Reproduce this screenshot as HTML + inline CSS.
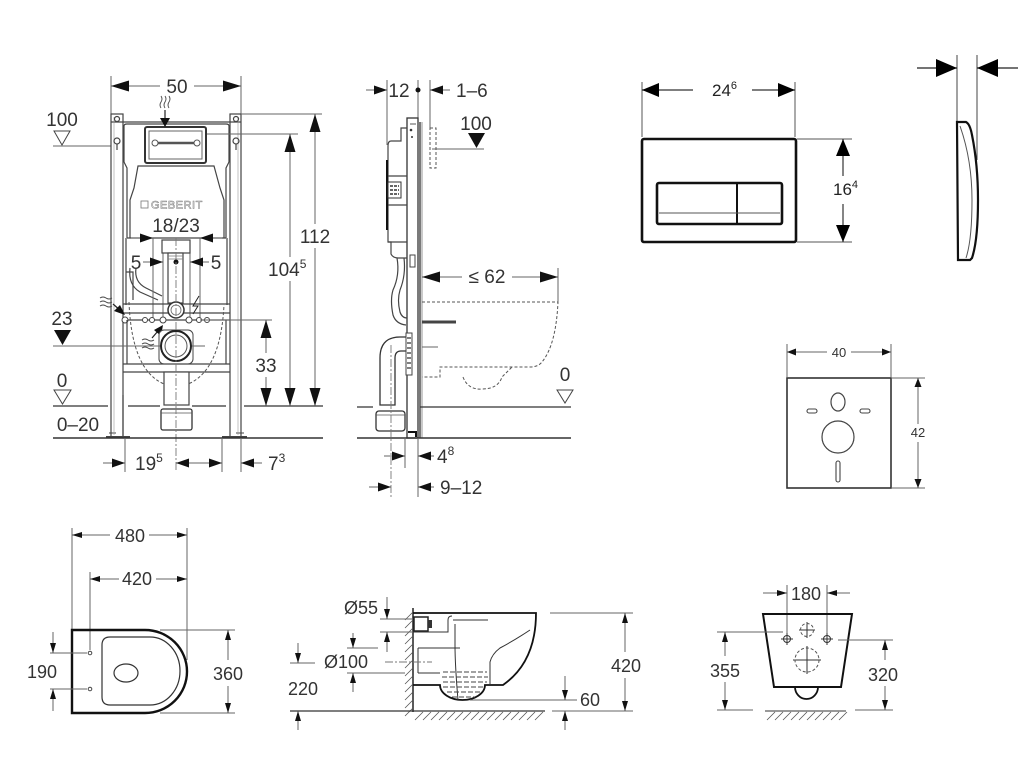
<!DOCTYPE html>
<html><head><meta charset="utf-8"><style>
body{margin:0;background:#fff}
svg{display:block}
text{font-family:"Liberation Sans",sans-serif;fill:#333}
.d{stroke:#666;stroke-width:1;fill:none}
.o{stroke:#444;stroke-width:1.2;fill:none}
.k{stroke:#111;fill:none}
.dash{stroke:#555;stroke-width:1;fill:none;stroke-dasharray:3 2}
.cl{stroke:#777;stroke-width:0.9;fill:none;stroke-dasharray:8 2 2 2}
</style></head><body>
<svg width="1024" height="758" viewBox="0 0 1024 758" xmlns="http://www.w3.org/2000/svg">
<defs>
<marker id="A" viewBox="0 0 18 11" refX="18" refY="5.5" markerWidth="18" markerHeight="11" markerUnits="userSpaceOnUse" orient="auto-start-reverse"><path d="M0,0L18,5.5L0,11z" fill="#111"/></marker>
<marker id="S" viewBox="0 0 13 9" refX="13" refY="4.5" markerWidth="13" markerHeight="9" markerUnits="userSpaceOnUse" orient="auto-start-reverse"><path d="M0,0L13,4.5L0,9z" fill="#111"/></marker>
<marker id="C" viewBox="0 0 17 14" refX="17" refY="7" markerWidth="17" markerHeight="14" markerUnits="userSpaceOnUse" orient="auto-start-reverse"><path d="M0,0L17,7L0,14z" fill="#000"/></marker>
<marker id="D" viewBox="0 0 21 18" refX="21" refY="9" markerWidth="21" markerHeight="18" markerUnits="userSpaceOnUse" orient="auto-start-reverse"><path d="M0,0L21,9L0,18z" fill="#000"/></marker>
<marker id="B" viewBox="0 0 10 6" refX="10" refY="3" markerWidth="10" markerHeight="6" markerUnits="userSpaceOnUse" orient="auto-start-reverse"><path d="M0,0L10,3L0,6z" fill="#111"/></marker>
<marker id="M" viewBox="0 0 9 7" refX="9" refY="3.5" markerWidth="9" markerHeight="7" markerUnits="userSpaceOnUse" orient="auto-start-reverse"><path d="M0,0L9,3.5L0,7z" fill="#111"/></marker>
</defs>

<!-- ================= FRONT VIEW (frame) ================= -->
<g>
<line class="d" x1="111" y1="76" x2="111" y2="114"/>
<line class="d" x1="241" y1="76" x2="241" y2="114"/>
<line class="d" x1="111" y1="86" x2="160" y2="86" marker-start="url(#A)"/>
<line class="d" x1="194" y1="86" x2="241" y2="86" marker-end="url(#A)"/>
<text x="177" y="93" font-size="19" text-anchor="middle">50</text>

<text x="62" y="126" font-size="19" text-anchor="middle">100</text>
<path d="M54 131 L70 131 L62 145 Z" fill="none" stroke="#444" stroke-width="1"/>
<line class="d" x1="53" y1="146" x2="112" y2="146"/>

<g class="o">
<rect x="111" y="114" width="12" height="323" fill="#fff"/>
<rect x="230" y="114" width="11" height="323" fill="#fff"/>
<line x1="111" y1="122" x2="241" y2="122"/>
<line x1="123" y1="395" x2="123" y2="437"/>
<path d="M106 437 H130 M222 437 H247" stroke-width="2"/>
<path d="M109 433 H116 M236 433 H244" stroke-width="1"/>
<line x1="114" y1="117" x2="114" y2="435" stroke="#999" stroke-width="0.6"/>
<line x1="238" y1="117" x2="238" y2="435" stroke="#999" stroke-width="0.6"/>
</g>
<circle cx="117" cy="119" r="2.5" class="o"/>
<circle cx="236" cy="119" r="2.5" class="o"/>
<circle cx="117" cy="141" r="3" class="o"/>
<circle cx="236" cy="141" r="3" class="o"/>
<path d="M117 144 V150 M236 144 V150" class="o"/>

<path class="o" d="M124 162 V126 Q124 124 127 124 H226 Q229 124 229 126 V162"/>
<path class="o" d="M130 238 V200 L134 188 L138 166 H214 L220 188 L224 200 V238"/>
<path class="o" d="M124 162 L127 168 V238 M229 162 L226 168 V238"/>
<rect x="145" y="127" width="61" height="36" rx="2" fill="none" stroke="#333" stroke-width="2"/>
<rect x="149" y="131" width="53" height="28" fill="none" stroke="#666" stroke-width="1"/>
<path d="M154 143 H198" stroke="#555" stroke-width="2.5"/>
<circle cx="155" cy="143" r="3" fill="#fff" stroke="#555"/>
<circle cx="197" cy="143" r="3" fill="#fff" stroke="#555"/>
<rect x="141" y="201" width="7" height="7" fill="none" stroke="#777" stroke-width="0.8"/>
<text x="151" y="208.5" font-size="11" fill="#fff" stroke="#777" stroke-width="0.5" letter-spacing="0.5" style="fill:#fff">GEBERIT</text>
<text x="176" y="232" font-size="19" text-anchor="middle">18/23</text>

<path class="o" d="M127 238 H226"/>
<path class="o" d="M126 238 V305 M227 238 V305"/>
<path class="o" d="M130 268 Q128 285 140 292 L158 300 M136 268 Q134 282 146 288 L162 296" stroke-width="1"/>
<path class="o" d="M126 272 H133 V300" stroke-width="1"/>
<line class="d" x1="153" y1="238" x2="153" y2="320"/>
<line class="d" x1="200" y1="238" x2="200" y2="320"/>
<line class="d" x1="163" y1="252" x2="163" y2="320"/>
<line class="d" x1="190" y1="252" x2="190" y2="320"/>
<line class="d" x1="131" y1="238" x2="153" y2="238" marker-end="url(#S)"/>
<line class="d" x1="222" y1="238" x2="200" y2="238" marker-end="url(#S)"/>
<line class="d" x1="143" y1="262" x2="163" y2="262" marker-end="url(#S)"/>
<line class="d" x1="209" y1="262" x2="190" y2="262" marker-end="url(#S)"/>
<text x="136" y="269" font-size="19" text-anchor="middle">5</text>
<text x="216" y="269" font-size="19" text-anchor="middle">5</text>
<rect x="162" y="240" width="28" height="13" fill="#fff" stroke="#444" stroke-width="1.2"/>
<rect x="168" y="253" width="15" height="50" fill="#fff" stroke="#444" stroke-width="1.2"/>
<path d="M168 256 H183 M168 259 H183" stroke="#777" stroke-width="0.7"/>
<circle cx="176" cy="262" r="2.5" fill="#111"/>
<path class="o" d="M123 304 H230 M123 313 H230 M123 320 H230"/>
<circle cx="176" cy="310" r="8" fill="#fff" stroke="#333" stroke-width="1.5"/>
<circle cx="176" cy="310" r="5" fill="none" stroke="#666" stroke-width="0.8"/>
<g fill="#fff" stroke="#444" stroke-width="1">
<circle cx="125" cy="320" r="3"/><circle cx="145" cy="320" r="2.5"/><circle cx="152" cy="320" r="2.5"/>
<circle cx="163" cy="320" r="3"/><circle cx="189" cy="320" r="3"/><circle cx="199" cy="320" r="2.5"/><circle cx="207" cy="320" r="2.5"/>
</g>
<path d="M199 296 L193 306 H198 L193 314" fill="none" stroke="#222" stroke-width="1"/>
<path d="M161 96 q2 3 0 6 q-2 3 0 6 M165 96 q2 3 0 6 q-2 3 0 6 M169 96 q2 3 0 6 q-2 3 0 6" fill="none" stroke="#444" stroke-width="0.9"/>
<path d="M165 110 V120" stroke="#222" stroke-width="1.2"/>
<path d="M160 118 L170 118 L165 127 Z" fill="#111"/>
<path d="M100 298 q3 -2 6 0 q3 2 6 0 M100 302 q3 -2 6 0 q3 2 6 0 M100 306 q3 -2 6 0 q3 2 6 0" fill="none" stroke="#444" stroke-width="0.9"/>
<path d="M113 304 L121 311" stroke="#222" stroke-width="1.2"/>
<path d="M125 315 L114 311 L120 305 Z" fill="#111"/>
<path d="M142 340 q3 -2 6 0 q3 2 6 0 M142 344 q3 -2 6 0 q3 2 6 0 M142 348 q3 -2 6 0 q3 2 6 0" fill="none" stroke="#444" stroke-width="0.9"/>
<path d="M152 338 L158 331" stroke="#222" stroke-width="1.2"/>
<path d="M163 325 L161 336 L154 330 Z" fill="#111"/>
<rect x="159" y="330" width="34" height="34" rx="5" fill="#fff" stroke="#444" stroke-width="1"/>
<circle cx="176" cy="346" r="15" fill="#fff" stroke="#222" stroke-width="2"/>
<circle cx="176" cy="346" r="11" fill="none" stroke="#555" stroke-width="1"/>
<path class="dash" d="M129 302 Q132 382 176 387 Q220 382 224 305"/>
<path class="o" d="M123 364 H230 M123 372 H230"/>
<path class="o" d="M127 320 V364 M226 320 V364"/>
<rect x="164" y="372" width="25" height="33" fill="#fff" stroke="#444" stroke-width="1.2"/>
<rect x="161" y="409" width="31" height="21" rx="2" fill="#fff" stroke="#333" stroke-width="1.3"/>
<line x1="161" y1="413" x2="192" y2="413" stroke="#555" stroke-width="0.8"/>
<line class="cl" x1="176" y1="238" x2="176" y2="472"/>

<text x="62" y="325" font-size="19" text-anchor="middle">23</text>
<path d="M54 330 L71 330 L62.5 345 Z" fill="#111"/>
<line class="d" x1="53" y1="346" x2="160" y2="346"/>
<line class="d" x1="192" y1="346" x2="205" y2="346"/>
<text x="62" y="387" font-size="19" text-anchor="middle">0</text>
<path d="M54 390 L71 390 L62.5 404 Z" fill="none" stroke="#444" stroke-width="1"/>
<path d="M53 406 H108 M128 406 H160 M192 406 H226 M244 406 H323" stroke="#333" stroke-width="1.3"/>
<text x="78" y="431" font-size="19" text-anchor="middle">0–20</text>
<path d="M53 438 H323" stroke="#333" stroke-width="1.5"/>

<line class="d" x1="241" y1="114" x2="322" y2="114"/>
<line class="d" x1="207" y1="134" x2="298" y2="134"/>
<line class="d" x1="200" y1="320" x2="272" y2="320"/>
<line class="d" x1="315" y1="114" x2="315" y2="224" marker-start="url(#A)"/>
<line class="d" x1="315" y1="248" x2="315" y2="406" marker-end="url(#A)"/>
<text x="315" y="243" font-size="19" text-anchor="middle">112</text>
<line class="d" x1="290" y1="134" x2="290" y2="257" marker-start="url(#A)"/>
<line class="d" x1="290" y1="281" x2="290" y2="406" marker-end="url(#A)"/>
<text x="268" y="276" font-size="19">104<tspan font-size="12" dy="-8">5</tspan></text>
<line class="d" x1="266" y1="320" x2="266" y2="353" marker-start="url(#A)"/>
<line class="d" x1="266" y1="377" x2="266" y2="406" marker-end="url(#A)"/>
<text x="266" y="372" font-size="19" text-anchor="middle">33</text>

<line class="d" x1="125" y1="438" x2="125" y2="472"/>
<line class="d" x1="222" y1="438" x2="222" y2="472"/>
<line class="d" x1="241" y1="438" x2="241" y2="472"/>
<line class="d" x1="103" y1="463" x2="125" y2="463" marker-end="url(#S)"/>
<text x="135" y="470" font-size="19">19<tspan font-size="12" dy="-8">5</tspan></text>
<line class="d" x1="176" y1="463" x2="222" y2="463" marker-start="url(#S)" marker-end="url(#S)"/>
<line class="d" x1="262" y1="463" x2="241" y2="463" marker-end="url(#S)"/>
<text x="268" y="470" font-size="19">7<tspan font-size="12" dy="-8">3</tspan></text>
</g>

<!-- ================= SIDE VIEW ================= -->
<g>
<line class="d" x1="387" y1="80" x2="387" y2="145"/>
<line class="d" x1="418" y1="80" x2="418" y2="118"/>
<line class="d" x1="430" y1="80" x2="430" y2="128"/>
<line class="d" x1="366" y1="90" x2="387" y2="90" marker-end="url(#S)"/>
<text x="399" y="97" font-size="19" text-anchor="middle">12</text>
<circle cx="418" cy="90" r="2.5" fill="#111"/>
<line class="d" x1="450" y1="90" x2="430" y2="90" marker-end="url(#S)"/>
<text x="456" y="97" font-size="19">1–6</text>
<text x="476" y="130" font-size="19" text-anchor="middle">100</text>
<path d="M468 133 L485 133 L476.5 148 Z" fill="#111"/>
<line class="d" x1="432" y1="149" x2="484" y2="149"/>
<rect class="dash" x="430" y="128" width="6" height="40"/>

<rect x="407" y="118" width="11" height="320" fill="#fff" stroke="#333" stroke-width="1.3"/>
<line x1="420" y1="122" x2="420" y2="438" stroke="#333" stroke-width="1.3"/>
<line x1="422" y1="122" x2="422" y2="438" stroke="#666" stroke-width="0.7"/>
<path d="M410 124 H416" stroke="#555"/>
<circle cx="411" cy="130" r="1.3" fill="#333"/><circle cx="412" cy="137" r="1" fill="#333"/>
<rect x="410" y="255" width="5" height="12" fill="none" stroke="#444" stroke-width="1"/>
<path class="o" d="M407 128 H401 V141 H391 Q388 141 388 146 V242 H391 V254 Q393 258 398 258 H407"/>
<path d="M387 160 V230" stroke="#111" stroke-width="2"/>
<rect x="388" y="182" width="13" height="16" fill="#fff" stroke="#333" stroke-width="1"/>
<path d="M390 186 H399 M390 190 H399 M390 194 H399" stroke="#333" stroke-width="1.5" stroke-dasharray="3 1"/>
<path class="o" d="M388 176 H407 M388 205 H407 M388 242 H407"/>
<path class="o" d="M397 258 Q400 275 393 290 Q390 300 393 315 Q396 324 406 325 M404 258 Q406 275 400 290 Q397 300 400 312 Q402 318 407 318"/>
<path fill="#fff" stroke="#333" stroke-width="1.3" d="M380 405 V358 Q380 337 400 337 H407 V351 H401 Q395 351 395 358 V405 Z"/>
<rect x="406" y="333" width="6" height="42" fill="#fff" stroke="#444" stroke-width="1"/>
<path d="M407 338 H411 M407 343 H411 M407 348 H411 M407 353 H411 M407 358 H411 M407 363 H411 M407 368 H411" stroke="#333" stroke-width="1.2"/>
<rect x="376" y="411" width="29" height="20" rx="3" fill="#fff" stroke="#333" stroke-width="1.3"/>
<line x1="376" y1="415" x2="405" y2="415" stroke="#555" stroke-width="0.8"/>
<path d="M408 432 H416 V437" stroke="#111" stroke-width="2" fill="none"/>
<path class="dash" d="M422 302 H558 Q556 345 542 362 Q538 367 530 367 H440 V377 H422"/>
<path class="dash" d="M463 377 Q468 390 482 389 Q498 389 502 377 L512 367"/>
<path d="M422 322 H456" stroke="#444" stroke-width="3"/>
<line x1="422" y1="347" x2="438" y2="347" stroke="#666" stroke-width="1"/>
<line class="d" x1="558" y1="268" x2="558" y2="302"/>
<line class="d" x1="422" y1="277" x2="462" y2="277" marker-start="url(#A)"/>
<line class="d" x1="512" y1="277" x2="558" y2="277" marker-end="url(#A)"/>
<text x="487" y="283" font-size="19" text-anchor="middle">≤ 62</text>
<text x="565" y="381" font-size="19" text-anchor="middle">0</text>
<path d="M557 390 L573 390 L565 403 Z" fill="none" stroke="#444" stroke-width="1"/>
<path d="M357 407 H373 M420 407 H571" stroke="#333" stroke-width="1.3"/>
<path d="M357 438 H571" stroke="#333" stroke-width="1.5"/>
<line class="cl" x1="391" y1="345" x2="391" y2="497"/>
<line class="d" x1="405" y1="438" x2="405" y2="468"/>
<line class="d" x1="418" y1="438" x2="418" y2="497"/>
<line class="d" x1="384" y1="456" x2="405" y2="456" marker-end="url(#S)"/>
<line class="d" x1="434" y1="456" x2="418" y2="456" marker-end="url(#S)"/>
<text x="437" y="463" font-size="19">4<tspan font-size="12" dy="-8">8</tspan></text>
<line class="d" x1="369" y1="487" x2="391" y2="487" marker-end="url(#S)"/>
<line class="d" x1="434" y1="487" x2="418" y2="487" marker-end="url(#S)"/>
<text x="440" y="494" font-size="19">9–12</text>
</g>

<!-- ================= FLUSH PLATE ================= -->
<g>
<line x1="642" y1="82" x2="642" y2="137" stroke="#555" stroke-width="1"/>
<line x1="795" y1="82" x2="795" y2="137" stroke="#555" stroke-width="1"/>
<line x1="642" y1="90" x2="693" y2="90" stroke="#333" stroke-width="1.2" marker-start="url(#C)"/>
<line x1="752" y1="90" x2="795" y2="90" stroke="#333" stroke-width="1.2" marker-end="url(#C)"/>
<text x="712" y="96" font-size="17" style="fill:#222">24<tspan font-size="11" dy="-7">6</tspan></text>
<rect x="642" y="139" width="154" height="103" rx="2" fill="none" stroke="#111" stroke-width="2.6"/>
<rect x="657" y="183" width="125" height="41" rx="2" fill="none" stroke="#111" stroke-width="2.6"/>
<line x1="737" y1="183" x2="737" y2="224" stroke="#111" stroke-width="2"/>
<line x1="659" y1="213" x2="780" y2="213" stroke="#555" stroke-width="1"/>
<line x1="797" y1="139" x2="852" y2="139" stroke="#555" stroke-width="1"/>
<line x1="797" y1="242" x2="852" y2="242" stroke="#555" stroke-width="1"/>
<line x1="843" y1="139" x2="843" y2="176" stroke="#333" stroke-width="1.2" marker-start="url(#C)"/>
<line x1="843" y1="204" x2="843" y2="242" stroke="#333" stroke-width="1.2" marker-end="url(#C)"/>
<text x="833" y="195" font-size="17" style="fill:#222">16<tspan font-size="11" dy="-7">4</tspan></text>
<line x1="957" y1="55" x2="957" y2="122" stroke="#444" stroke-width="1"/>
<line x1="977" y1="55" x2="977" y2="160" stroke="#444" stroke-width="1"/>
<line x1="917" y1="68" x2="957" y2="68" stroke="#222" stroke-width="1.2" marker-end="url(#D)"/>
<line x1="1018" y1="68" x2="977" y2="68" stroke="#222" stroke-width="1.2" marker-end="url(#D)"/>
<path d="M957 122 H966 Q970 124 972 135 Q978 165 978 200 Q978 240 972 258 L970 260 H958 Z" fill="none" stroke="#111" stroke-width="2.2"/>
<path d="M960 126 Q972 160 972 200 Q972 240 966 258" fill="none" stroke="#555" stroke-width="1"/>
</g>

<!-- ================= SOUND MAT ================= -->
<g>
<line class="d" x1="787" y1="344" x2="787" y2="377"/>
<line class="d" x1="891" y1="344" x2="891" y2="377"/>
<line class="d" x1="787" y1="352" x2="827" y2="352" marker-start="url(#M)"/>
<line class="d" x1="851" y1="352" x2="891" y2="352" marker-end="url(#M)"/>
<text x="839" y="357" font-size="13" text-anchor="middle">40</text>
<rect x="787" y="378" width="104" height="110" fill="none" stroke="#333" stroke-width="1.6"/>
<line class="d" x1="892" y1="378" x2="925" y2="378"/>
<line class="d" x1="892" y1="488" x2="925" y2="488"/>
<line class="d" x1="918" y1="378" x2="918" y2="424" marker-start="url(#M)"/>
<line class="d" x1="918" y1="442" x2="918" y2="488" marker-end="url(#M)"/>
<text x="918" y="437" font-size="13" text-anchor="middle">42</text>
<ellipse cx="838" cy="402" rx="7" ry="9" fill="none" stroke="#444" stroke-width="1.2"/>
<rect x="807" y="409" width="10" height="4" rx="2" fill="none" stroke="#444" stroke-width="1.1"/>
<rect x="860" y="409" width="10" height="4" rx="2" fill="none" stroke="#444" stroke-width="1.1"/>
<circle cx="838" cy="437" r="16" fill="none" stroke="#444" stroke-width="1.2"/>
<rect x="836" y="461" width="4" height="21" rx="2" fill="none" stroke="#444" stroke-width="1.1"/>
</g>

<!-- ================= PLAN VIEW ================= -->
<g>
<line class="d" x1="72" y1="528" x2="72" y2="630"/>
<line class="d" x1="187" y1="528" x2="187" y2="660"/>
<line class="d" x1="90" y1="572" x2="90" y2="650"/>
<line class="d" x1="72" y1="535" x2="110" y2="535" marker-start="url(#B)"/>
<line class="d" x1="149" y1="535" x2="187" y2="535" marker-end="url(#B)"/>
<text x="130" y="542" font-size="18" text-anchor="middle">480</text>
<line class="d" x1="90" y1="579" x2="119" y2="579" marker-start="url(#B)"/>
<line class="d" x1="156" y1="579" x2="187" y2="579" marker-end="url(#B)"/>
<text x="137" y="585" font-size="18" text-anchor="middle">420</text>
<path d="M72 630 H145 A42 41.5 0 0 1 145 713 H72 Z" fill="none" stroke="#111" stroke-width="2.4"/>
<path d="M110 637 H150 A30 34 0 0 1 150 705 H110 Q102 705 102 697 V645 Q102 637 110 637 Z" fill="none" stroke="#333" stroke-width="1.2"/>
<ellipse cx="126" cy="673" rx="12" ry="9" fill="none" stroke="#333" stroke-width="1.2"/>
<circle cx="90" cy="653" r="1.8" fill="none" stroke="#444"/>
<circle cx="90" cy="689" r="1.8" fill="none" stroke="#444"/>
<line class="d" x1="50" y1="653" x2="87" y2="653"/>
<line class="d" x1="50" y1="689" x2="87" y2="689"/>
<line class="d" x1="53" y1="632" x2="53" y2="653" marker-end="url(#B)"/>
<line class="d" x1="53" y1="711" x2="53" y2="689" marker-end="url(#B)"/>
<text x="42" y="678" font-size="18" text-anchor="middle">190</text>
<line class="d" x1="160" y1="630" x2="235" y2="630"/>
<line class="d" x1="160" y1="713" x2="235" y2="713"/>
<line class="d" x1="228" y1="630" x2="228" y2="660" marker-start="url(#B)"/>
<line class="d" x1="228" y1="686" x2="228" y2="713" marker-end="url(#B)"/>
<text x="228" y="680" font-size="18" text-anchor="middle">360</text>
</g>

<!-- ================= SIDE VIEW TOILET ================= -->
<g>
<line x1="413" y1="608" x2="413" y2="712" stroke="#222" stroke-width="1.5"/>
<path d="M405 620 L413 612 M405 628 L413 620 M405 636 L413 628 M405 644 L413 636 M405 652 L413 644 M405 660 L413 652 M405 668 L413 660 M405 676 L413 668 M405 684 L413 676 M405 692 L413 684 M405 700 L413 692 M405 708 L413 700 M405 716 L413 708" stroke="#555" stroke-width="0.8"/>
<line x1="290" y1="711" x2="545" y2="711" stroke="#333" stroke-width="1.2"/>
<path d="M415 720 L423 712 M423 720 L431 712 M431 720 L439 712 M439 720 L447 712 M447 720 L455 712 M455 720 L463 712 M463 720 L471 712 M471 720 L479 712 M479 720 L487 712 M487 720 L495 712 M495 720 L503 712 M503 720 L511 712 M511 720 L519 712 M519 720 L527 712 M527 720 L535 712 M535 720 L543 712" stroke="#555" stroke-width="0.8"/>
<path d="M413 613 H536 Q536 662 503 685 H485 A22.5 15 0 0 1 440 685 H413" fill="none" stroke="#111" stroke-width="1.8"/>
<rect x="414" y="617" width="14" height="14" fill="none" stroke="#222" stroke-width="1.5"/>
<path d="M428 620 H432 V628 H428" fill="#333"/>
<path d="M413 632 H448 V620 Q448 616 452 616" fill="none" stroke="#333" stroke-width="1"/>
<path d="M453 620 H488 M455 624 V645 Q455 665 458 700" fill="none" stroke="#333" stroke-width="1"/>
<path d="M530 630 Q515 640 500 648 Q492 654 490 662 V685" fill="none" stroke="#333" stroke-width="1"/>
<path d="M418 648 H460 M418 673 H440 M418 648 V673" fill="none" stroke="#333" stroke-width="1"/>
<path d="M443 672 H487 M442 677 H488 M443 682 H487 M443 687 H485 M447 692 H481 M452 697 H475" stroke="#444" stroke-width="0.9" stroke-dasharray="5 2"/>
<line class="cl" x1="385" y1="662" x2="432" y2="662"/>
<line class="d" x1="380" y1="619" x2="413" y2="619"/>
<line class="d" x1="380" y1="632" x2="413" y2="632"/>
<line class="d" x1="387" y1="597" x2="387" y2="619" marker-end="url(#B)"/>
<line class="d" x1="387" y1="652" x2="387" y2="632" marker-end="url(#B)"/>
<text x="361" y="614" font-size="18" text-anchor="middle">Ø55</text>
<line class="d" x1="347" y1="648" x2="378" y2="648"/>
<line class="d" x1="347" y1="673" x2="405" y2="673"/>
<line class="d" x1="353" y1="633" x2="353" y2="648" marker-end="url(#B)"/>
<line class="d" x1="353" y1="692" x2="353" y2="673" marker-end="url(#B)"/>
<text x="346" y="668" font-size="18" text-anchor="middle">Ø100</text>
<line class="d" x1="290" y1="663" x2="315" y2="663"/>
<line class="d" x1="298" y1="643" x2="298" y2="663" marker-end="url(#B)"/>
<line class="d" x1="298" y1="730" x2="298" y2="711" marker-end="url(#B)"/>
<text x="303" y="695" font-size="18" text-anchor="middle">220</text>
<line class="d" x1="470" y1="700" x2="577" y2="700"/>
<line class="d" x1="565" y1="676" x2="565" y2="700" marker-end="url(#B)"/>
<line class="d" x1="565" y1="730" x2="565" y2="711" marker-end="url(#B)"/>
<text x="580" y="706" font-size="18">60</text>
<line class="d" x1="550" y1="613" x2="633" y2="613"/>
<line class="d" x1="552" y1="711" x2="633" y2="711"/>
<line class="d" x1="625" y1="613" x2="625" y2="652" marker-start="url(#B)"/>
<line class="d" x1="625" y1="678" x2="625" y2="711" marker-end="url(#B)"/>
<text x="626" y="672" font-size="18" text-anchor="middle">420</text>
</g>

<!-- ================= FRONT VIEW TOILET ================= -->
<g>
<line class="d" x1="787" y1="585" x2="787" y2="636"/>
<line class="d" x1="827" y1="585" x2="827" y2="636"/>
<line class="d" x1="763" y1="593" x2="787" y2="593" marker-end="url(#B)"/>
<line class="d" x1="850" y1="593" x2="827" y2="593" marker-end="url(#B)"/>
<text x="806" y="600" font-size="18" text-anchor="middle">180</text>
<path d="M763 614 H852 L841 687 H774 Z" fill="none" stroke="#111" stroke-width="2"/>
<path d="M795 687 A11.5 12 0 0 0 818 687" fill="none" stroke="#111" stroke-width="1.8"/>
<g stroke="#333" stroke-width="1" fill="none">
<circle cx="787" cy="639" r="3.5"/><path d="M781 639 H793 M787 633 V645"/>
<circle cx="827" cy="639" r="3.5"/><path d="M821 639 H833 M827 633 V645"/>
<path d="M799 630 H815 M807 622 V638"/>
<path d="M793 660 H821 M807 646 V674"/>
</g>
<circle cx="807" cy="630" r="6.5" class="dash"/>
<circle cx="807" cy="660" r="12" class="dash"/>
<path d="M767 720 L775 712 M775 720 L783 712 M783 720 L791 712 M791 720 L799 712 M799 720 L807 712 M807 720 L815 712 M815 720 L823 712 M823 720 L831 712 M831 720 L839 712 M839 720 L847 712" stroke="#555" stroke-width="0.8"/>
<line x1="765" y1="711" x2="846" y2="711" stroke="#333" stroke-width="1"/>
<line class="d" x1="717" y1="632" x2="783" y2="632"/>
<line class="d" x1="717" y1="710" x2="753" y2="710"/>
<line class="d" x1="725" y1="632" x2="725" y2="656" marker-start="url(#B)"/>
<line class="d" x1="725" y1="682" x2="725" y2="710" marker-end="url(#B)"/>
<text x="725" y="677" font-size="18" text-anchor="middle">355</text>
<line class="d" x1="838" y1="640" x2="893" y2="640"/>
<line class="d" x1="855" y1="710" x2="893" y2="710"/>
<line class="d" x1="885" y1="640" x2="885" y2="660" marker-start="url(#B)"/>
<line class="d" x1="885" y1="686" x2="885" y2="710" marker-end="url(#B)"/>
<text x="883" y="681" font-size="18" text-anchor="middle">320</text>
</g>
</svg>
</body></html>
